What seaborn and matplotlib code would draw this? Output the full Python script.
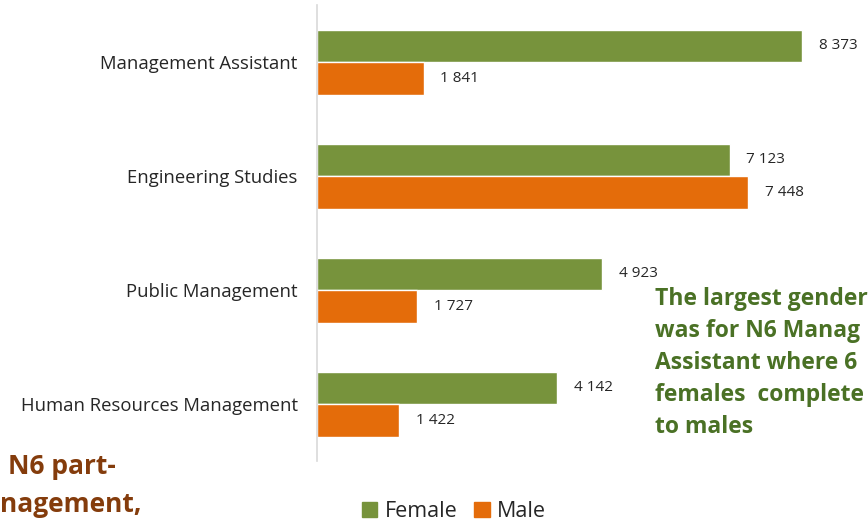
import matplotlib.pyplot as plt
import seaborn as sns
import pandas as pd
from matplotlib.patches import Patch

# data
categories = ['Management Assistant', 'Engineering Studies', 'Public Management', 'Human Resources Management']
female = [8373, 7123, 4923, 4142]
male = [1841, 7448, 1727, 1422]

df = pd.DataFrame({
    'category': categories * 2,
    'gender': ['Female'] * len(categories) + ['Male'] * len(categories),
    'value': female + male,
})

sns.set_theme(style='white')
plt.rcParams['font.family'] = ['Open Sans', 'DejaVu Sans']

colors = {'Female': '#77933c', 'Male': '#e46c0a'}

fig = plt.figure(figsize=(8.68, 5.23), dpi=100)
ax = fig.add_axes([0.3652, 0.1185, 0.6348, 0.8719])

sns.barplot(data=df, y='category', x='value', hue='gender', orient='h',
            palette=colors, width=0.57, gap=0, saturation=1, legend=False, ax=ax)

for cont in ax.containers:
    ax.bar_label(cont, labels=[f'{v:,.0f}'.replace(',', ' ') for v in cont.datavalues],
                 padding=12, fontsize=11, color='#262626')

ax.set_xlim(0, 9511)
ax.set_ylim(3.5, -0.5)
ax.set_xlabel('')
ax.set_ylabel('')
ax.set_xticks([])
ax.tick_params(axis='y', length=0, pad=14, labelsize=13.3, labelcolor='#262626')
for s in ['top', 'right', 'bottom']:
    ax.spines[s].set_visible(False)
ax.spines['left'].set_color('#d9d9d9')
ax.spines['left'].set_linewidth(1.2)

# legend at the bottom
handles = [Patch(color=colors['Female'], label='Female'), Patch(color=colors['Male'], label='Male')]
fig.legend(handles=handles, loc='center', bbox_to_anchor=(0.523, 0.022), ncol=2, frameon=False,
           fontsize=15.5, handlelength=0.7, handleheight=0.7, handletextpad=0.35, columnspacing=0.8)

# slide text that overlaps the chart (only the part visible in the crop)
green_lines = ['The largest gender', 'was for N6 Manag', 'Assistant where 6',
               'females  complete', 'to males']
for i, line in enumerate(green_lines):
    fig.text(655 / 868, 1 - (299 + 32 * i) / 523, line, fontsize=16.5, fontweight='bold',
             color='#4a7125', va='center', ha='left')

fig.text(8 / 868, 1 - 467 / 523, 'N6 part-', fontsize=19, fontweight='bold',
         color='#843c0c', va='center', ha='left')
fig.text(0, 1 - 505 / 523, 'nagement,', fontsize=19, fontweight='bold',
         color='#843c0c', va='center', ha='left')

fig.savefig('out.png', dpi=100)
